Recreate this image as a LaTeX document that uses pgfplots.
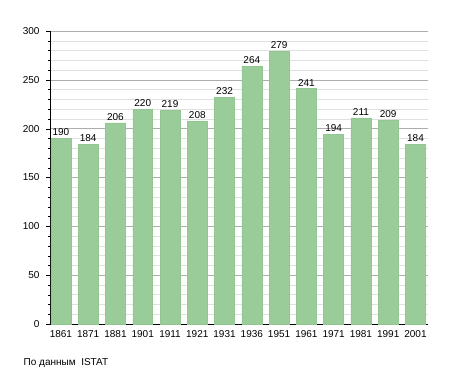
\documentclass[border=0pt]{standalone}
\usepackage{fontspec}
\setmainfont{Liberation Sans}
\usepackage{pgfplots}
\pgfplotsset{compat=1.18}
\definecolor{barg}{RGB}{153,204,153}
\definecolor{bare}{RGB}{146,198,146}
\begin{document}
\begin{tikzpicture}
\begin{axis}[
  scale only axis,
  width=378pt, height=293pt,
  xmin=-0.4, xmax=13.46,
  ymin=0, ymax=300,
  axis lines*=left,
  axis line style={black, thick},
  xtick=data,
  xticklabels={1861,1871,1881,1901,1911,1921,1931,1936,1951,1961,1971,1981,1991,2001},
  x tick style={draw=none},
  ytick={0,50,...,300},
  minor y tick num=4,
  ymajorgrids, yminorgrids,
  major grid style={draw=black!32},
  minor grid style={draw=black!12},
  y tick style={black},
  major tick length=4pt, minor tick length=2.5pt,
  tick align=outside,
  ticklabel style={font=\fontsize{10}{12}\selectfont},
  yticklabel style={xshift=-3pt},
  /pgf/number format/assume math mode=true,
  xticklabel style={yshift=1pt},
  clip=false,
  nodes near coords,
  every node near coord/.append style={font=\fontsize{10}{12}\selectfont, black, yshift=-1pt},
]
\addplot[ybar, bar width=0.73, fill=barg, draw=bare] coordinates {
(0,190) (1,184) (2,206) (3,220) (4,219) (5,208) (6,232) (7,264) (8,279) (9,241) (10,194) (11,211) (12,209) (13,184)};
\node[anchor=base west, font=\fontsize{10}{12}\selectfont] at (axis description cs:-0.079,-0.142) {По данным\ \ ISTAT};
\path (axis description cs:-0.1323,-0.1672) rectangle (axis description cs:1.0714,1.1058);
\end{axis}
\end{tikzpicture}
\end{document}
